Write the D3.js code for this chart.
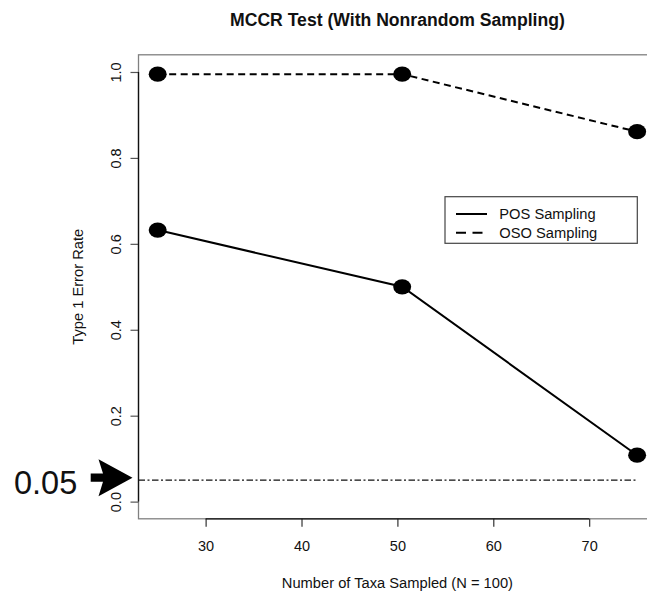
<!DOCTYPE html>
<html>
<head>
<meta charset="utf-8">
<script src="https://cdn.jsdelivr.net/npm/d3@7"></script>
<style>
  html, body { margin: 0; padding: 0; background: #fff; }
  svg { display: block; }
  text { font-family: "Liberation Sans", Arial, Helvetica, sans-serif; fill: #111; }
</style>
</head>
<body>
<svg id="chart" width="647" height="595"></svg>
<script>
// Taxa sampled (x) and Type 1 error rates for the two sampling schemes
const taxaSampled = [25, 50.5, 75];
const posRate = [0.632, 0.500, 0.108];
const osoRate = [0.995, 0.995, 0.861];
const xTicks = [30, 40, 50, 60, 70];
const yTicks = [0.0, 0.2, 0.4, 0.6, 0.8, 1.0];
const alphaLevel = 0.05;
const alphaLineEnd = 75;
const seriesNames = ["POS Sampling", "OSO Sampling"];

const svg = d3.select("#chart");

// plot region (box runs past the right edge of the page)
const plot = { left: 138.5, right: 656.3, top: 54.8, bottom: 518.8 };

const x = d3.scaleLinear().domain([23, 77]).range([plot.left, plot.right]);
const y = d3.scaleLinear().domain([-0.04, 1.04]).range([plot.bottom, plot.top]);

// box around the plot region
svg.append("rect")
  .attr("x", plot.left).attr("y", plot.top)
  .attr("width", plot.right - plot.left).attr("height", plot.bottom - plot.top)
  .attr("fill", "none").attr("stroke", "#808080").attr("stroke-width", 1.3);

// bottom axis
const xAxis = d3.axisBottom(x).tickValues(xTicks).tickSize(8).tickPadding(10)
  .tickFormat(d3.format("d"));
const gx = svg.append("g").attr("transform", `translate(0,${plot.bottom})`).call(xAxis);
gx.select(".domain").remove();
gx.append("line")
  .attr("x1", x(xTicks[0])).attr("x2", x(xTicks[xTicks.length - 1]))
  .attr("stroke", "#111").attr("stroke-width", 1.3);
gx.selectAll(".tick line").attr("stroke", "#333").attr("stroke-width", 1.2);
gx.selectAll(".tick text")
  .attr("font-size", 14.5).attr("font-family", "Liberation Sans, Arial, sans-serif")
  .attr("fill", "#1a1a1a").attr("y", 0).attr("dy", null)
  .attr("transform", "translate(0,32.5)");

// left axis with rotated labels
const yAxis = d3.axisLeft(y).tickValues(yTicks).tickSize(8)
  .tickFormat(d3.format(".1f"));
const gy = svg.append("g").attr("transform", `translate(${plot.left},0)`).call(yAxis);
gy.select(".domain").remove();
gy.append("line")
  .attr("y1", y(yTicks[0])).attr("y2", y(yTicks[yTicks.length - 1]))
  .attr("stroke", "#111").attr("stroke-width", 1.3);
gy.selectAll(".tick line").attr("stroke", "#555").attr("stroke-width", 1.2);
gy.selectAll(".tick text")
  .attr("font-size", 14.5).attr("font-family", "Liberation Sans, Arial, sans-serif")
  .attr("fill", "#1a1a1a")
  .attr("x", 0).attr("y", 0).attr("dy", null)
  .attr("text-anchor", "middle")
  .attr("transform", "translate(-17.5,0) rotate(-90)");

// titles
svg.append("text")
  .attr("x", (plot.left + plot.right) / 2).attr("y", 25.5)
  .attr("text-anchor", "middle").attr("font-size", 17.6).attr("font-weight", "bold")
  .text("MCCR Test (With Nonrandom Sampling)");

svg.append("text")
  .attr("x", (plot.left + plot.right) / 2).attr("y", 588)
  .attr("text-anchor", "middle").attr("font-size", 14.7)
  .text("Number of Taxa Sampled (N = 100)");

svg.append("text")
  .attr("transform", `translate(83,${(plot.top + plot.bottom) / 2}) rotate(-90)`)
  .attr("text-anchor", "middle").attr("font-size", 14.7)
  .text("Type 1 Error Rate");

// significance level reference line
svg.append("line")
  .attr("x1", x(x.domain()[0])).attr("x2", x(alphaLineEnd))
  .attr("y1", y(alphaLevel)).attr("y2", y(alphaLevel))
  .attr("stroke", "#111").attr("stroke-width", 1.1)
  .attr("stroke-dasharray", "6.5,2.5,2,2.5");

// series lines
const line = d3.line().x((d, i) => x(taxaSampled[i])).y(d => y(d));

svg.append("path").datum(posRate).attr("d", line)
  .attr("fill", "none").attr("stroke", "#000").attr("stroke-width", 2);
svg.append("path").datum(osoRate).attr("d", line)
  .attr("fill", "none").attr("stroke", "#000").attr("stroke-width", 2)
  .attr("stroke-dasharray", "7,4.5");

// point markers
[posRate, osoRate].forEach(series => {
  svg.append("g").selectAll("ellipse").data(series).join("ellipse")
    .attr("cx", (d, i) => x(taxaSampled[i])).attr("cy", d => y(d))
    .attr("rx", 9).attr("ry", 7.6).attr("fill", "#000");
});

// legend
const legend = svg.append("g");
legend.append("rect")
  .attr("x", 445).attr("y", 196.7).attr("width", 192.3).attr("height", 46.6)
  .attr("fill", "#fff").attr("stroke", "#444").attr("stroke-width", 1.2);
const legendRows = [214, 232.7];
seriesNames.forEach((name, i) => {
  legend.append("line")
    .attr("x1", 456).attr("x2", 487).attr("y1", legendRows[i]).attr("y2", legendRows[i])
    .attr("stroke", "#000").attr("stroke-width", 2)
    .attr("stroke-dasharray", i === 1 ? "10,6.5" : null);
  legend.append("text")
    .attr("x", 499.3).attr("y", legendRows[i] + 5.3)
    .attr("font-size", 14.7).text(name);
});

// annotation: arrow pointing at the 0.05 line
const ay = y(alphaLevel) - 2.5;
svg.append("text")
  .attr("x", 14).attr("y", 494.3)
  .attr("font-family", "Open Sans, Lato, sans-serif").attr("font-size", 32.5)
  .attr("fill", "#000")
  .text(String(alphaLevel));
svg.append("path")
  .attr("d", `M90.7,${ay - 4.2} L103,${ay - 4.2} L98.5,${ay - 18.5} L132.5,${ay}
              L98.5,${ay + 18.5} L103,${ay + 4.2} L90.7,${ay + 4.2} Z`)
  .attr("fill", "#000");
</script>
</body>
</html>
